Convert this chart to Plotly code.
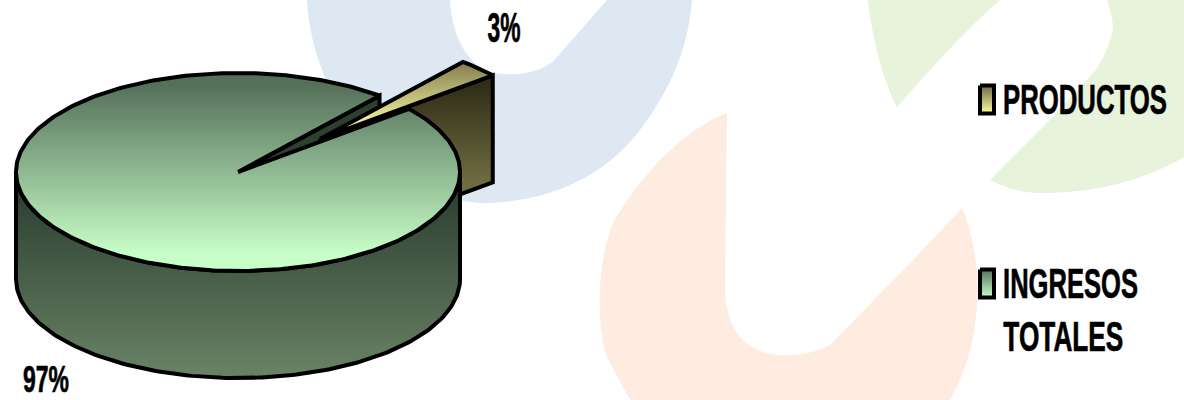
import json
import numpy as np
import plotly.graph_objects as go

categories = ["PRODUCTOS", "INGRESOS TOTALES"]
values = [3, 97]
percent_labels = ["3%", "97%"]

CX, CY, RX, RY, DEPTH = 238, 172, 222, 99, 107
MID_ANGLE = 45
EXPLODE_X, EXPLODE_Y = 82, -33
SLICE_R = 1.01
FONT = "Liberation Sans"
LINE = dict(color="black", width=4)

share = values[0] / sum(values) * 360
a0, a1 = MID_ANGLE - share / 2, MID_ANGLE + share / 2


def pt(deg, cx=CX, cy=CY, r=1.0):
    t = np.radians(deg)
    return cx + RX * r * np.cos(t), cy - RY * r * np.sin(t)


def arc(start, stop, cx=CX, cy=CY, r=1.0, n=160):
    t = np.linspace(start, stop, n)
    return pt(t, cx, cy, r)


fig = go.Figure()


def poly(x, y, colors, y0, y1, name, line=LINE):
    fig.add_trace(go.Scatter(
        x=list(x) + [x[0]], y=list(y) + [y[0]], mode="lines", fill="toself", line=line,
        fillgradient=dict(type="vertical", colorscale=[[0, colors[0]], [1, colors[1]]], start=y0, stop=y1),
        name=name, showlegend=False, hoverinfo="name"))


# far cut wall of the large slice
fx, fy = pt(a1)
poly([CX, fx, fx, CX], [CY, fy, fy + DEPTH, CY + DEPTH], ["#2c3f30", "#2c3f30"], 90, 280, categories[1])

# exploded small slice
sx, sy = CX + EXPLODE_X, CY + EXPLODE_Y
ox, oy = pt(a0, sx, sy, SLICE_R)
poly([sx, ox, ox, sx], [sy, oy, oy + DEPTH, sy + DEPTH], ["#2a2714", "#6f6c42"], oy, oy + DEPTH, categories[0])
tx, ty = arc(a0, a1, sx, sy, SLICE_R, 12)
poly([sx, *tx], [sy, *ty], ["#837c4e", "#ffffa8"], ty.min(), sy - 8, categories[0])

# outer wall of the large slice
wx, wy = arc(360, 180)
bx, by = arc(180, 360)
poly(list(wx) + list(bx), list(wy) + list(by + DEPTH), ["#2c3f30", "#6a8366"], 190, CY + RY + DEPTH, categories[1])

# top of the large slice
mx, my = arc(a1, a0 + 360, n=400)
poly([CX, *mx], [CY, *my], ["#55705a", "#c8ffc8"], 85, 255, categories[1])

# text: (x centre, y centre, text, rendered width, font size)
texts = [
    (504, 27, percent_labels[0], 33, 43),
    (46, 379, percent_labels[1], 46, 37),
    (1085, 99, categories[0], 164, 43),
    (1070, 283, "INGRESOS", 135, 43),
    (1063, 336, "TOTALES", 120, 43),
]
annotations = [
    dict(x=x, y=y, text=t, xref="x", yref="y", showarrow=False, xanchor="center", yanchor="middle",
         font=dict(family=FONT, size=fs, color="black", weight="bold"))
    for x, y, t, _, fs in texts
]

# legend swatches
for name, yy, colors in [(categories[0], 99.5, ["#6a6844", "#ffffa0"]), (categories[1], 283.5, ["#55705a", "#c8ffc8"])]:
    poly([980, 994, 994, 980], [yy - 14, yy - 14, yy + 14, yy + 14], colors, yy - 14, yy + 14, name)

bg = [
    ("M 307 0 C 312 100 390 205 490 203 C 560 200 610 170 640 130 C 670 90 688 50 692 0 L 607 0 "
     "L 557 57 C 545 72 515 78 490 72 C 470 65 452 40 450 0 Z", "#dde8f3"),
    ("M 727 113 C 697 123 647 163 613 223 C 598 260 595 320 607 357 L 630 400 L 950 400 C 970 365 980 320 977 273 "
     "C 975 245 968 222 962 208 L 913 260 L 830 345 C 800 360 760 360 740 337 C 728 322 725 300 725 290 Z", "#fdecdf"),
    ("M 868 0 C 872 40 885 85 897 107 C 930 70 965 30 1000 0 Z", "#e8f3dc"),
    ("M 1107 0 C 1112 15 1114 25 1112 33 C 1108 50 1100 65 1093 73 L 1047 123 L 990 180 C 1010 190 1025 193 1040 193 "
     "C 1090 193 1140 183 1184 157 L 1184 0 Z", "#e8f3dc"),
]
shapes = [dict(type="path", path=p, fillcolor=c, line=dict(width=0), layer="below") for p, c in bg]

fig.update_layout(
    width=1184, height=400, margin=dict(l=0, r=0, t=0, b=0), showlegend=False,
    paper_bgcolor="white", plot_bgcolor="white", annotations=annotations, shapes=shapes,
    xaxis=dict(range=[0, 1184], visible=False, fixedrange=True),
    yaxis=dict(range=[400, 0], visible=False, fixedrange=True),
)

widths = {t[2]: t[3] for t in texts}
post = """
document.body.style.margin = '0';
var w = %s;
document.querySelectorAll('.annotation-text').forEach(function (el) {
  var n = w[el.textContent];
  if (!n) return;
  var cx = parseFloat(el.getAttribute('x'));
  var s = n / el.getComputedTextLength();
  el.setAttribute('transform', 'translate(' + cx + ' 0) scale(' + s + ' 1) translate(' + (-cx) + ' 0)');
  el.style.stroke = 'black';
  el.style.strokeWidth = '0.7px';
});
""" % json.dumps(widths)
fig.write_html("out.html", config=dict(displayModeBar=False), post_script=post)
